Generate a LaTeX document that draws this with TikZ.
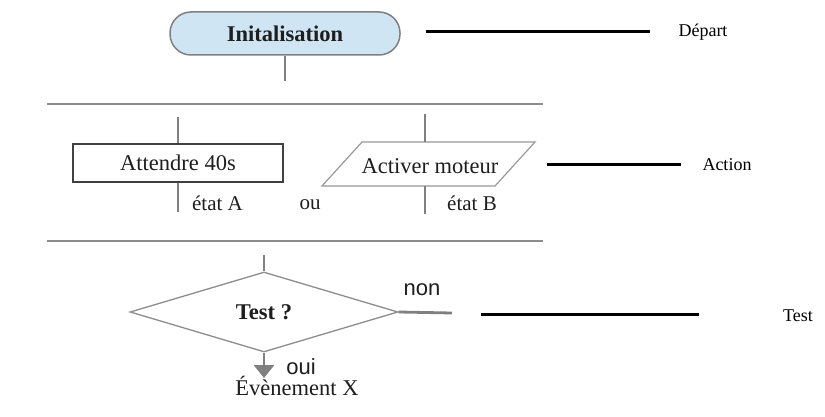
\documentclass[tikz,border=0pt]{standalone}
\usepackage{fontspec}
\setmainfont{Liberation Serif}
\newfontfamily\arialfont{Liberation Sans}
\usetikzlibrary{shapes.geometric,arrows.meta}

\definecolor{termblue}{RGB}{208,229,243}
\definecolor{linegray}{RGB}{128,128,128}
\definecolor{textgray}{RGB}{30,30,30}

\tikzset{
  chart/.style={text=textgray, font=\fontsize{22.5}{27}\selectfont},
  term/.style={chart, draw=linegray, line width=1.5pt, fill=termblue,
    minimum width=230, minimum height=43, rounded corners=21pt, font=\fontsize{22.5}{27}\selectfont\bfseries},
  actionbox/.style={chart, draw=black!75, line width=1.8pt, minimum width=210, minimum height=38},
  ioline/.style={draw=linegray!80, line width=1.2pt},
  iotext/.style={chart, inner sep=0pt},
  testbox/.style={chart, draw=linegray!90, line width=1.3pt, diamond, inner sep=0pt,
    minimum width=268, minimum height=80, font=\fontsize{22.5}{27}\selectfont\bfseries},
  stub/.style={draw=linegray, line width=2.8pt},
  sep/.style={draw=linegray!90, line width=2.5pt},
  pointer/.style={draw=black, line width=3pt},
  lbl/.style={text=textgray, anchor=base, inner sep=0pt, font=\fontsize{21}{25}\selectfont},
  sanslbl/.style={text=textgray, anchor=base, inner sep=0pt, font=\arialfont\fontsize{22}{26}\selectfont},
  side/.style={text=black, anchor=base, inner sep=0pt, font=\fontsize{18}{22}\selectfont}
}

\begin{document}
\begin{tikzpicture}[x=1pt,y=-1pt]
  \fill[white] (0,0) rectangle (825,417);
  \useasboundingbox (0,0) rectangle (825,417);

  % Start
  \node[term] (init) at (285,33.5) {Initalisation};
  \coordinate (initend) at (285,81);
  \draw[stub] (init.south) -- (initend);

  % Separators
  \coordinate (sepAl) at (47,104);  \coordinate (sepAr) at (543,104);
  \coordinate (sepBl) at (47,241);  \coordinate (sepBr) at (543,241);
  \draw[sep] (sepAl) -- (sepAr);
  \draw[sep] (sepBl) -- (sepBr);

  % Actions
  \node[actionbox] (attente) at (178,163) {Attendre 40s};
  \coordinate (attin) at (178,117);
  \coordinate (attout) at (178,212);
  \draw[stub] (attin) -- (attente.north);
  \draw[stub] (attente.south) -- (attout);
  \node[lbl] (etatA) at (217.5,211) {état A};

  \node[lbl] (ou) at (310,210) {ou};

  % Parallelogram (drawn directly)
  \coordinate (moNW) at (362,142); \coordinate (moNE) at (535,142);
  \coordinate (moSE) at (495,186); \coordinate (moSW) at (322,186);
  \draw[ioline] (moNW) -- (moNE) -- (moSE) -- (moSW) -- cycle;
  \node[iotext] (moteur) at (430,166) {Activer moteur};
  \coordinate (motin) at (425,114);  \coordinate (mottop) at (425,142);
  \coordinate (motbot) at (425,186); \coordinate (motout) at (425,214);
  \draw[stub] (motin) -- (mottop);
  \draw[stub] (motbot) -- (motout);
  \node[lbl] (etatB) at (472,211) {état B};

  % Test
  \node[testbox] (test) at (264,312) {Test ?};
  \coordinate (testin) at (264,255);
  \coordinate (nonend) at (452,313);
  \coordinate (ouiend) at (264,378);
  \draw[stub] (testin) -- (test.north);
  \draw[stub] (test.east) -- (nonend);
  \draw[stub, -{Triangle[width=20pt,length=13pt]}] (test.south) -- (ouiend);
  \node[sanslbl] (non) at (422,295) {non};
  \node[sanslbl] (oui) at (301,374) {oui};
  \node[lbl, font=\fontsize{22.5}{27}\selectfont] (evt) at (297,395) {Évènement X};

  % Side labels
  \coordinate (pDa) at (426,32);  \coordinate (pDb) at (650,32);
  \coordinate (pAa) at (547,165); \coordinate (pAb) at (681,165);
  \coordinate (pTa) at (481,314); \coordinate (pTb) at (699,314);
  \draw[pointer] (pDa) -- (pDb);
  \draw[pointer] (pAa) -- (pAb);
  \draw[pointer] (pTa) -- (pTb);
  \node[side] (depart) at (703,37) {Départ};
  \node[side] (action) at (727,171) {Action};
  \node[side] (testlbl) at (798,321) {Test};
\end{tikzpicture}
\end{document}
